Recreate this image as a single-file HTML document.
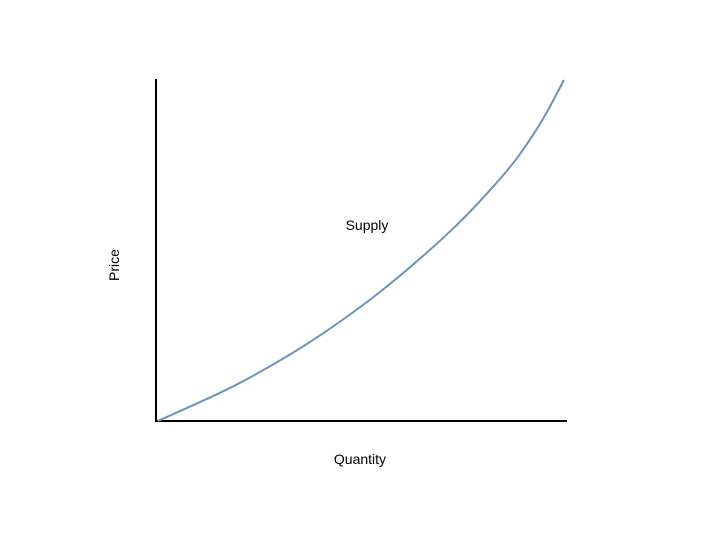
<!DOCTYPE html>
<html><head><meta charset="utf-8"><style>
html,body{margin:0;padding:0;background:#fff;}
svg{display:block;}
text{font-family:"Liberation Sans",sans-serif;font-size:14px;fill:#000;}
</style></head><body>
<svg id="chart" width="720" height="540">
<line x1="156" y1="79" x2="156" y2="422" stroke="#000" stroke-width="2"/>
<line x1="155" y1="421" x2="567" y2="421" stroke="#000" stroke-width="2"/>
<text x="367" y="230" text-anchor="middle">Supply</text>
<text x="119" y="265" text-anchor="middle" transform="rotate(-90 119 265)">Price</text>
<text x="360" y="464" text-anchor="middle">Quantity</text>
</svg>
<script>
const quantity = [0, 20, 40, 60, 80, 88, 94, 99];
const price = [0, 11.2, 25.5, 43.6, 66.4, 77.8, 88.8, 100];
const X0 = 158, X1 = 568, Y0 = 421, Y1 = 80;
function sx(v){ return X0 + (X1 - X0) * v / 100; }
function sy(v){ return Y0 - (Y0 - Y1) * v / 100; }
const n = quantity.length;
const h = [], m = [];
for (let i = 0; i < n - 1; i++) { h.push(quantity[i+1] - quantity[i]); m.push((price[i+1] - price[i]) / h[i]); }
const t = [];
for (let i = 0; i < n; i++) {
  if (i === 0) t.push(m[0]);
  else if (i === n - 1) t.push(m[n-2]);
  else t.push((h[i] * m[i-1] + h[i-1] * m[i]) / (h[i-1] + h[i]));
}
t[n-1] = Math.max(m[n-2], 1.5 * m[n-2] - 0.5 * t[n-2]);
let d = 'M' + sx(quantity[0]) + ',' + sy(price[0]);
for (let i = 0; i < n - 1; i++) {
  const q1 = quantity[i] + h[i] / 3, p1 = price[i] + t[i] * h[i] / 3;
  const q2 = quantity[i+1] - h[i] / 3, p2 = price[i+1] - t[i+1] * h[i] / 3;
  d += ' C' + sx(q1) + ',' + sy(p1) + ' ' + sx(q2) + ',' + sy(p2) + ' ' + sx(quantity[i+1]) + ',' + sy(price[i+1]);
}
const path = document.createElementNS('http://www.w3.org/2000/svg', 'path');
path.setAttribute('d', d);
path.setAttribute('fill', 'none');
path.setAttribute('stroke', '#6a93c2');
path.setAttribute('stroke-width', '2');


document.getElementById('chart').appendChild(path);
</script>
</body></html>
